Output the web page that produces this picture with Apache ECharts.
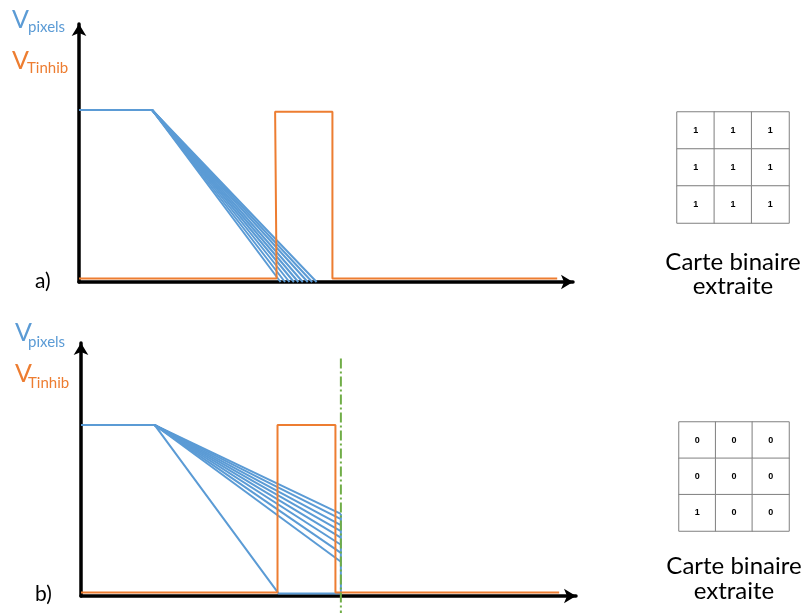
<!DOCTYPE html>
<html>
<head>
<meta charset="utf-8">
<script src="https://cdn.jsdelivr.net/npm/echarts@6/dist/echarts.min.js"></script>
<style>html,body{margin:0;padding:0;background:#fff;}#c{width:803px;height:613px;}</style>
</head>
<body>
<div id="c"></div>
<script>
// ---------- Data (arbitrary units: time 0..100, voltage relative to plateau = 1) ----------
// Panel a)
const pixelPlateauA = 1.0;
const kneeTimeA = 14.8;
const pixelEndTimesA = [40.8, 41.7, 42.6, 43.5, 44.4, 45.3, 46.3, 47.2, 48.1];
const pixelEndLevelA = 0.0;
const inhibTimeA = [0, 40.0, 39.7, 51.3, 51.3, 96.8];
const inhibLevelA = [0.02, 0.02, 0.99, 0.99, 0.02, 0.02];

// Panel b)
const pixelPlateauB = 1.0;
const kneeTimeB = 14.9;
const steepEndTimeB = 39.9;
const readTimeB = 52.5;
const pixelEndLevelsB = [0.48, 0.45, 0.415, 0.38, 0.342, 0.3, 0.252, 0.20];
const baseLevelB = 0.015;
const inhibTimeB = [0, 39.7, 39.7, 51.4, 51.4, 96.6];
const inhibLevelB = [0.02, 0.02, 1.0, 1.0, 0.02, 0.02];
const readLineLevelsB = [1.39, -0.1];

// Binary maps (rows top to bottom)
const mapA = [[1, 1, 1], [1, 1, 1], [1, 1, 1]];
const mapB = [[0, 0, 0], [0, 0, 0], [1, 0, 0]];

const BLUE = '#5B9BD5', ORANGE = '#ED7D31', GREEN = '#70AD47';
const FONT = 'Lato';

// ---------- Build series ----------
const series = [];
function lineSeries(data, color, gi, extra) {
  return Object.assign({
    type: 'line', xAxisIndex: gi, yAxisIndex: gi, data: data,
    showSymbol: false, symbol: 'none', silent: true, animation: false,
    lineStyle: { color: color, width: 2 }, z: 2
  }, extra || {});
}
// Panel a: pixel discharges
pixelEndTimesA.forEach(t => {
  series.push(lineSeries([[0, pixelPlateauA], [kneeTimeA, pixelPlateauA], [t, pixelEndLevelA]], BLUE, 0));
});
series.push(lineSeries(inhibTimeA.map((t, i) => [t, inhibLevelA[i]]), ORANGE, 0, { z: 3 }));

// Panel b
series.push(lineSeries([[0, pixelPlateauB], [kneeTimeB, pixelPlateauB], [steepEndTimeB, baseLevelB], [readTimeB, baseLevelB], [readTimeB, pixelEndLevelsB[0]]], BLUE, 1));
pixelEndLevelsB.forEach(v => {
  series.push(lineSeries([[kneeTimeB, pixelPlateauB], [readTimeB, v]], BLUE, 1));
});
series.push(lineSeries(inhibTimeB.map((t, i) => [t, inhibLevelB[i]]), ORANGE, 1, { z: 3 }));
series.push(lineSeries(readLineLevelsB.map(v => [readTimeB, v]), GREEN, 1, {
  clip: false, z: 4, lineStyle: { color: GREEN, width: 2, type: [10, 3, 2, 3] }
}));

// Binary maps as heatmaps
function mapData(m) {
  const out = [];
  m.forEach((row, r) => row.forEach((v, c) => out.push([c, r, v])));
  return out;
}
[mapA, mapB].forEach((m, k) => {
  series.push({
    type: 'heatmap', xAxisIndex: 2 + k, yAxisIndex: 2 + k, data: mapData(m),
    animation: false, silent: true,
    itemStyle: { color: '#ffffff', borderColor: '#808080', borderWidth: 1 },
    label: { show: true, color: '#000', fontSize: 9, fontWeight: 'bold', fontFamily: 'Liberation Sans',
      formatter: p => String(p.value[2]) },
    emphasis: { disabled: true }
  });
});

const axisLine = {
  show: true, onZero: false, symbol: ['none', 'arrow'], symbolSize: [11, 12],
  lineStyle: { color: '#000', width: 3.5 }
};
function valAxis(gi, min, max) {
  return {
    type: 'value', gridIndex: gi, min: min, max: max,
    axisLine: axisLine, axisTick: { show: false }, axisLabel: { show: false }, splitLine: { show: false }
  };
}
function catAxis(gi, inverse) {
  return {
    type: 'category', gridIndex: gi, data: ['0', '1', '2'], show: false, inverse: !!inverse
  };
}

const grids = [
  { left: 79, top: 24, width: 494, height: 258 },
  { left: 81, top: 343, width: 495, height: 253 },
  { left: 677, top: 112, width: 112, height: 111 },
  { left: 679, top: 422, width: 110, height: 109 }
];

function txt(x, y, s, size, color, align) {
  return { type: 'text', x: x, y: y, silent: true,
    style: { text: s, fontSize: size, fill: color, fontFamily: FONT, align: align || 'left', verticalAlign: 'middle' } };
}

const graphics = [
  txt(12, 20, 'V', 25, BLUE), txt(28, 27, 'pixels', 15, BLUE),
  txt(12, 61, 'V', 25, ORANGE), txt(27, 68, 'Tinhib', 15, ORANGE),
  txt(35, 281, 'a)', 21, '#000'),
  txt(15, 333, 'V', 25, BLUE), txt(28, 342, 'pixels', 15, BLUE),
  txt(15, 374, 'V', 25, ORANGE), txt(28, 383, 'Tinhib', 15, ORANGE),
  txt(35, 594, 'b)', 21, '#000'),
  txt(733, 262, 'Carte binaire', 24, '#000', 'center'),
  txt(733, 286, 'extraite', 24, '#000', 'center'),
  txt(734, 566, 'Carte binaire', 24, '#000', 'center'),
  txt(734, 591, 'extraite', 24, '#000', 'center')
];

const chart = echarts.init(document.getElementById('c'), null, { renderer: 'canvas' });
chart.setOption({
  backgroundColor: '#ffffff',
  animation: false,
  grid: grids,
  xAxis: [valAxis(0, 0, 100), valAxis(1, 0, 100), catAxis(2), catAxis(3)],
  yAxis: [valAxis(0, 0, 1.5), valAxis(1, 0, 1.48), catAxis(2, true), catAxis(3, true)],
  series: series,
  graphic: graphics
});
</script>
</body>
</html>
